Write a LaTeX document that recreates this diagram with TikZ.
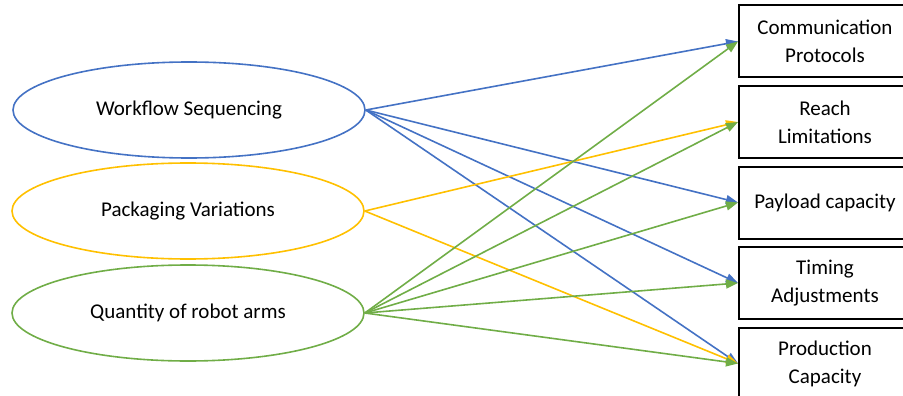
\documentclass[tikz,border=0pt]{standalone}
\usepackage{fontspec}
\setmainfont{Carlito}
\usetikzlibrary{shapes.geometric,arrows.meta}
\definecolor{wsblue}{HTML}{4472C4}
\definecolor{pvgold}{HTML}{FFC000}
\definecolor{qagreen}{HTML}{70AD47}
\tikzset{
  factor/.style={ellipse, draw, line width=1.6pt, minimum width=352pt, minimum height=96pt,
    inner sep=0pt, font=\fontsize{21}{28}\selectfont},
  target/.style={rectangle, draw=black, line width=2pt, minimum width=172pt, minimum height=72pt,
    inner sep=0pt, align=center, font=\fontsize{21}{28}\selectfont},
  link/.style={line width=1.6pt, -{Triangle[length=12pt,width=9pt]}},
}
\begin{document}
\begin{tikzpicture}[x=1pt,y=-1pt]
\useasboundingbox (0,0) rectangle (903,396);
% factors on the left
\node[factor, draw=wsblue]  (ws) at (189,110) {\raisebox{-1.5pt}{Workflow Sequencing}};
\node[factor, draw=pvgold]  (pv) at (188,211) {\raisebox{-1.5pt}{Packaging Variations}};
\node[factor, draw=qagreen] (qa) at (188,313) {\raisebox{-1.5pt}{Quantity of robot arms}};
% outcomes on the right
\node[target] (comm) at (825,41.5)  {Communication\\Protocols};
\node[target] (reach) at (825,122)  {Reach\\Limitations};
\node[target] (pay) at (825,202.5)  {Payload capacity};
\node[target] (tim) at (825,283)    {Timing\\Adjustments};
\node[target] (prod) at (825,363.5) {Production\\Capacity};
% links
\draw[link, wsblue] (ws.east) -- (comm.west);
\draw[link, wsblue] (ws.east) -- (pay.west);
\draw[link, wsblue] (ws.east) -- (tim.west);
\draw[link, wsblue] (ws.east) -- (prod.west);
\draw[link, pvgold] (pv.east) -- (reach.west);
\draw[link, pvgold] (pv.east) -- (prod.west);
\draw[link, qagreen] (qa.east) -- (comm.west);
\draw[link, qagreen] (qa.east) -- (reach.west);
\draw[link, qagreen] (qa.east) -- (pay.west);
\draw[link, qagreen] (qa.east) -- (tim.west);
\draw[link, qagreen] (qa.east) -- (prod.west);
\end{tikzpicture}
\end{document}
